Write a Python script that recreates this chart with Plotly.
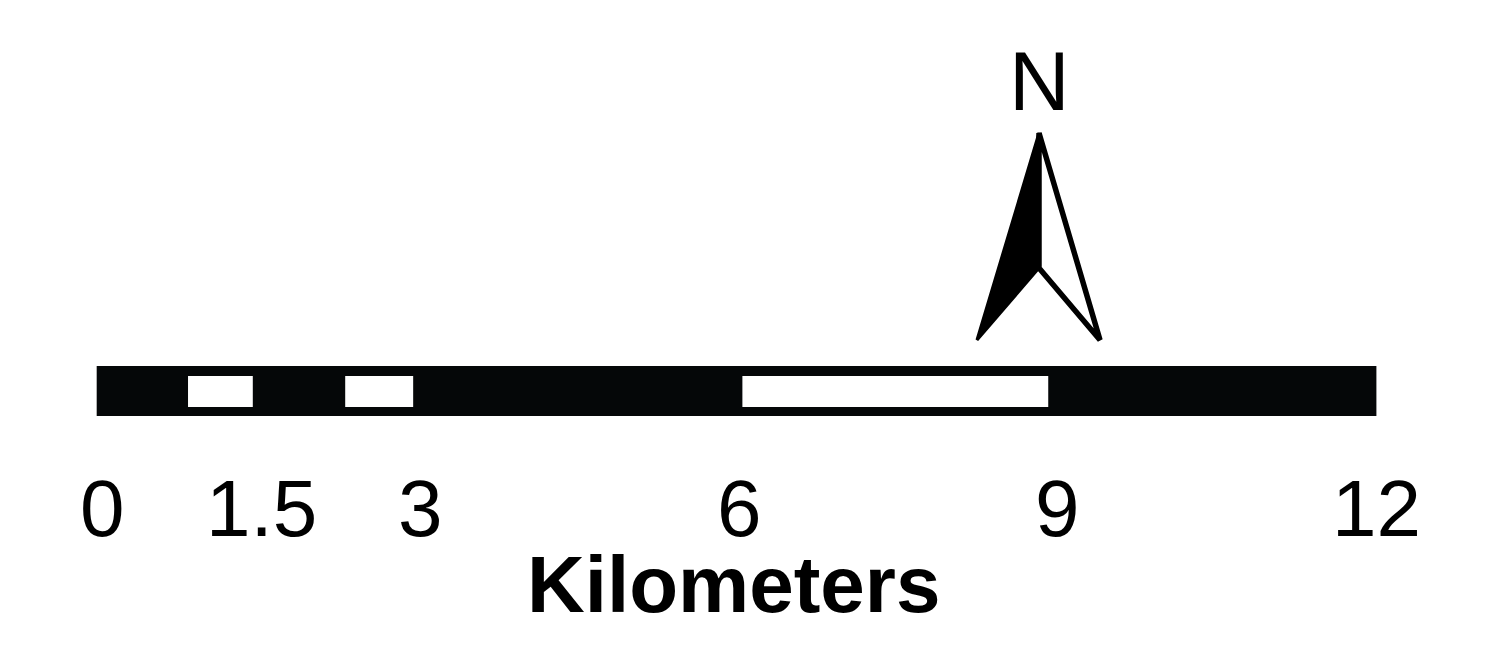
import plotly.graph_objects as go

# ---- data (kilometres) ----
tick_values = [0, 1.5, 3, 6, 9, 12]
tick_labels = ["0", "1.5", "3", "6", "9", "12"]
bar_extent = [-0.05, 12.0]
white_from = [0.81, 2.29, 6.03]
white_to = [1.42, 2.93, 8.91]
unit_label = "Kilometers"
north_label = "N"

OFF = 8  # browser body margin
W, H = 1497 - OFF, 650 - OFF
X0_PX, PX_PER_KM = 102.0 - OFF, 106.2
x_range = [-X0_PX / PX_PER_KM, (W - X0_PX) / PX_PER_KM]

def Y(py):
    return py - OFF

FONT = "Liberation Sans, Arial, sans-serif"

fig = go.Figure()
fig.add_trace(go.Scatter(x=tick_values, y=[Y(500)] * len(tick_values), mode="markers",
                         marker=dict(opacity=0), hoverinfo="skip", showlegend=False))

shapes = []
shapes.append(dict(type="rect", xref="x", yref="y", x0=bar_extent[0], x1=bar_extent[1],
                   y0=Y(366), y1=Y(416), fillcolor="#050708", line=dict(width=0), layer="above"))
for a, b in zip(white_from, white_to):
    shapes.append(dict(type="rect", xref="x", yref="y", x0=a, x1=b, y0=Y(376), y1=Y(407),
                       fillcolor="white", line=dict(width=0), layer="above"))

def P(x, y):
    return f"{(x - OFF) / W:.5f},{1 - (y - OFF) / H:.5f}"

tip, left, right, notch = (1039, 133), (977, 340), (1100, 340), (1039, 268)
shapes.append(dict(type="path", xref="paper", yref="paper",
                   path=f"M{P(*tip)} L{P(*left)} L{P(*notch)} Z",
                   fillcolor="black", line=dict(color="black", width=3), layer="above"))
shapes.append(dict(type="path", xref="paper", yref="paper",
                   path=f"M{P(*tip)} L{P(*right)} L{P(*notch)} Z",
                   fillcolor="white", line=dict(color="black", width=5.5), layer="above"))

def KM(px):
    return (px - OFF - X0_PX) / PX_PER_KM

annotations = []
for v, t in zip(tick_values, tick_labels):
    annotations.append(dict(x=v, y=Y(508), xref="x", yref="y", text=t, showarrow=False,
                            xanchor="center", yanchor="middle",
                            font=dict(family=FONT, size=80, color="black")))
annotations.append(dict(x=KM(733.5), y=Y(584), xref="x", yref="y",
                        text=f"<b>{unit_label}</b>", showarrow=False,
                        xanchor="center", yanchor="middle",
                        font=dict(family=FONT, size=80, color="black")))
annotations.append(dict(x=KM(1039.5), y=Y(81), xref="x", yref="y",
                        text=north_label, showarrow=False, xanchor="center", yanchor="middle",
                        font=dict(family=FONT, size=84, color="black")))

fig.update_layout(
    width=W, height=H, margin=dict(l=0, r=0, t=0, b=0),
    paper_bgcolor="white", plot_bgcolor="white",
    xaxis=dict(range=x_range, visible=False, fixedrange=True),
    yaxis=dict(range=[H, 0], visible=False, fixedrange=True),
    shapes=shapes, annotations=annotations, showlegend=False,
)
fig.write_html("out.html")
